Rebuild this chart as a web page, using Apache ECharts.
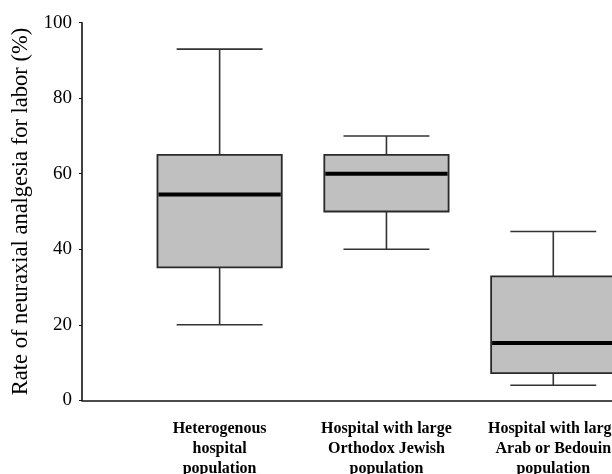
<!DOCTYPE html>
<html>
<head>
<meta charset="utf-8">
<script src="https://cdn.jsdelivr.net/npm/echarts@6/dist/echarts.min.js"></script>
<style>
  html, body { margin: 0; padding: 0; background: #fff; }
  #chart { width: 612px; height: 474px; }
</style>
</head>
<body>
<div id="chart"></div>
<script>
// Hospital groups and their rate distributions (%)
const categories = [
  'Heterogenous\nhospital\npopulation',
  'Hospital with large\nOrthodox Jewish\npopulation',
  'Hospital with large\nArab or Bedouin\npopulation'
];
const whiskerLow  = [20, 40, 4];
const quartile1   = [35.2, 50, 7.2];
const median      = [54.5, 60, 15.2];
const quartile3   = [65, 65, 32.8];
const whiskerHigh = [93, 70, 44.7];
const yTicks = [0, 20, 40, 60, 80, 100];

const boxData = categories.map((c, i) => [
  i, whiskerLow[i], quartile1[i], median[i], quartile3[i], whiskerHigh[i]
]);

const FONT = '"Liberation Serif", "Times New Roman", serif';
const AXIS_COLOR = '#111';

const chart = echarts.init(document.getElementById('chart'), null, { renderer: 'canvas' });

chart.setOption({
  backgroundColor: '#fff',
  animation: false,
  grid: [
    // frame carrying the y axis and the full baseline
    { left: 82, right: 0, top: 22.7, bottom: 73.7, outerBoundsMode: 'none', containLabel: false },
    // category band for the boxes (runs past the right edge)
    { left: 136.2, width: 500.5, top: 22.7, bottom: 73.7, outerBoundsMode: 'none', containLabel: false }
  ],
  xAxis: [
    {
      gridIndex: 0, type: 'value', min: 0, max: 1,
      axisLine: { show: true, lineStyle: { color: AXIS_COLOR, width: 1.6 } },
      axisTick: { show: false }, axisLabel: { show: false }, splitLine: { show: false }
    },
    {
      gridIndex: 1, type: 'category', data: categories,
      axisLine: { show: false }, axisTick: { show: false }, splitLine: { show: false },
      axisLabel: {
        interval: 0, margin: 19,
        fontFamily: FONT, fontSize: 16, fontWeight: 'bold', lineHeight: 20,
        color: '#000', align: 'center'
      }
    }
  ],
  yAxis: [
    {
      gridIndex: 0, type: 'value', min: 0, max: 100, interval: 20,
      name: 'Rate of neuraxial analgesia for labor (%)',
      nameLocation: 'middle', nameGap: 49, nameRotate: 90,
      nameTextStyle: { fontFamily: FONT, fontSize: 22.5, color: '#000' },
      axisLine: { show: true, lineStyle: { color: AXIS_COLOR, width: 1.6 } },
      axisTick: { show: true, length: 3, lineStyle: { color: AXIS_COLOR, width: 1 } },
      axisLabel: {
        margin: 10, fontFamily: FONT, fontSize: 19, color: '#000',
        formatter: v => (yTicks.includes(v) ? String(v) : '')
      },
      splitLine: { show: false }
    },
    {
      gridIndex: 1, type: 'value', min: 0, max: 100, show: false
    }
  ],
  series: [{
    type: 'custom',
    xAxisIndex: 1,
    yAxisIndex: 1,
    data: boxData,
    clip: false,
    renderItem(params, api) {
      const x = api.value(0);
      const lo = api.coord([x, api.value(1)]);
      const q1 = api.coord([x, api.value(2)]);
      const md = api.coord([x, api.value(3)]);
      const q3 = api.coord([x, api.value(4)]);
      const hi = api.coord([x, api.value(5)]);
      const band = api.size([1, 0])[0];
      const half = band * 0.745 / 2;
      const cap = band * 0.515 / 2;
      const cx = lo[0];
      const whisker = { stroke: '#333', lineWidth: 1.6 };
      return {
        type: 'group',
        children: [
          { type: 'line', shape: { x1: cx, y1: hi[1], x2: cx, y2: q3[1] }, style: whisker },
          { type: 'line', shape: { x1: cx, y1: q1[1], x2: cx, y2: lo[1] }, style: whisker },
          { type: 'line', shape: { x1: cx - cap, y1: hi[1], x2: cx + cap, y2: hi[1] }, style: whisker },
          { type: 'line', shape: { x1: cx - cap, y1: lo[1], x2: cx + cap, y2: lo[1] }, style: whisker },
          {
            type: 'rect',
            shape: { x: cx - half, y: q3[1], width: half * 2, height: q1[1] - q3[1] },
            style: { fill: '#c0c0c0', stroke: '#2a2a2a', lineWidth: 1.8 }
          },
          {
            type: 'line',
            shape: { x1: cx - half + 1, y1: md[1], x2: cx + half - 1, y2: md[1] },
            style: { stroke: '#000', lineWidth: 4 }
          }
        ]
      };
    }
  }]
});
</script>
</body>
</html>
